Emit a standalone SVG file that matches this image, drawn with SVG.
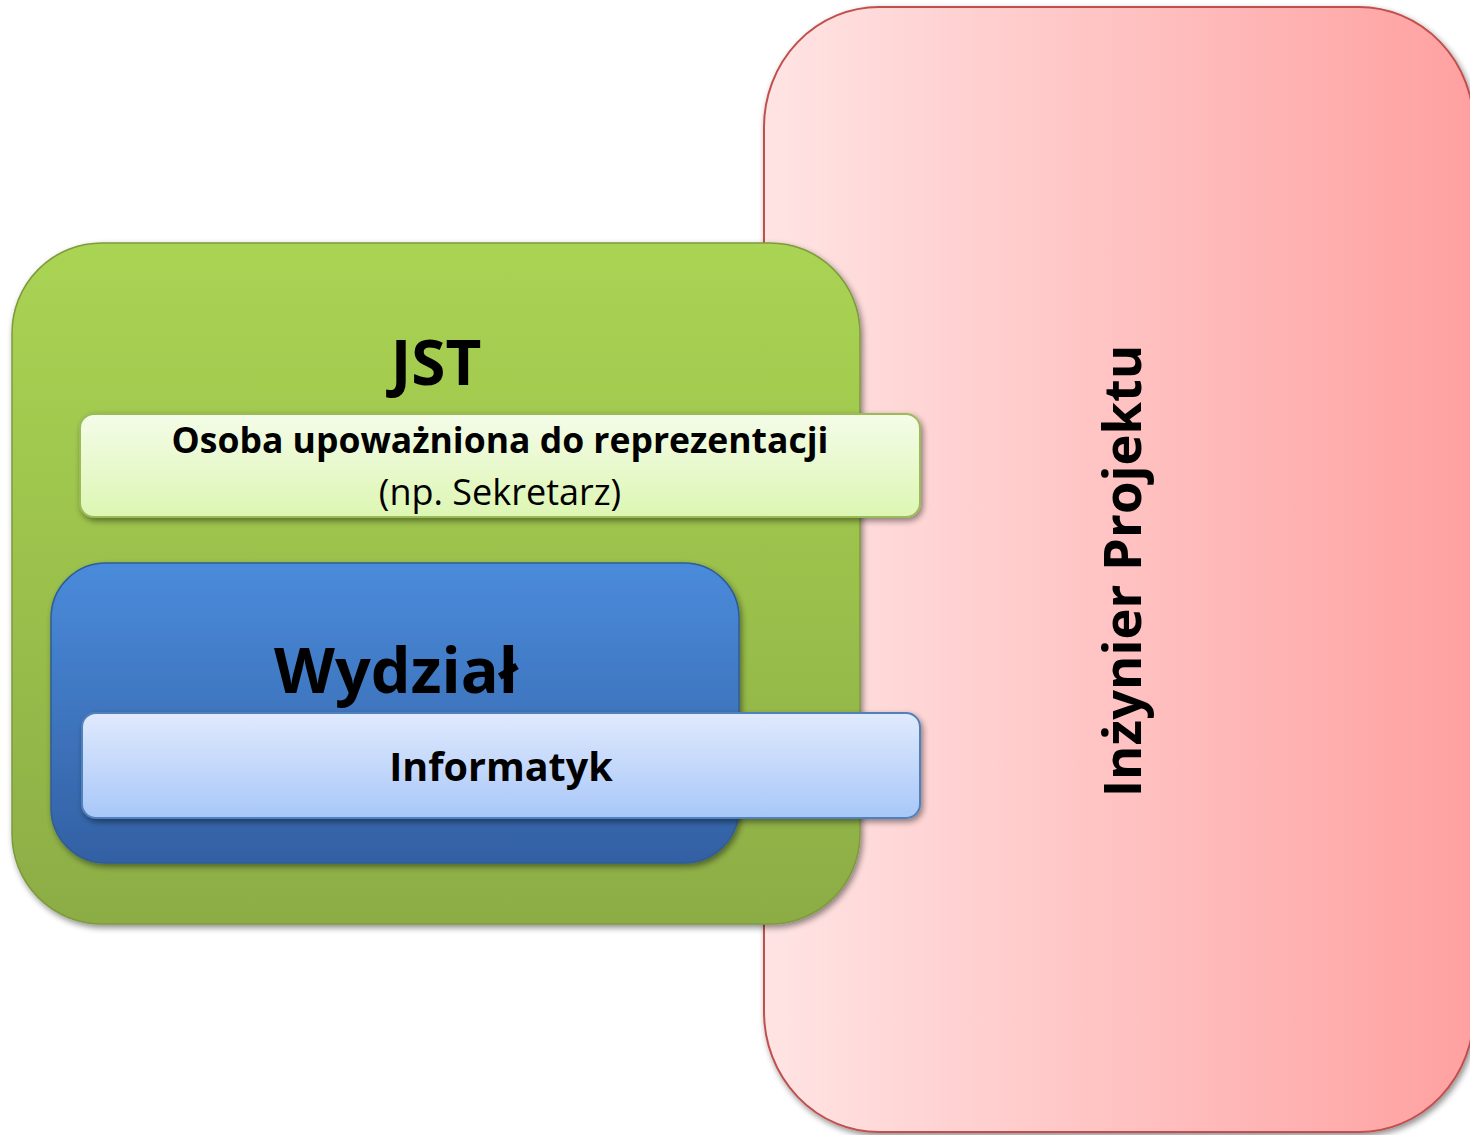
<svg xmlns="http://www.w3.org/2000/svg" width="1470" height="1135" viewBox="0 0 1470 1135">
<defs>
<linearGradient id="gPink" x1="0" y1="0" x2="1" y2="0">
<stop offset="0" stop-color="#ffe4e4"/>
<stop offset="1" stop-color="#ffa0a0"/>
</linearGradient>
<linearGradient id="gGreen" x1="0" y1="0" x2="0" y2="1">
<stop offset="0" stop-color="#aad453"/>
<stop offset="1" stop-color="#8cad45"/>
</linearGradient>
<linearGradient id="gLG" x1="0" y1="0" x2="0" y2="1">
<stop offset="0" stop-color="#f4fce8"/>
<stop offset="1" stop-color="#ddf6b3"/>
</linearGradient>
<linearGradient id="gBlue" x1="0" y1="0" x2="0" y2="1">
<stop offset="0" stop-color="#4a8bdb"/>
<stop offset="1" stop-color="#3360a3"/>
</linearGradient>
<linearGradient id="gLB" x1="0" y1="0" x2="0" y2="1">
<stop offset="0" stop-color="#e0eafd"/>
<stop offset="1" stop-color="#a8c7f8"/>
</linearGradient>
<filter id="sh" x="-10%" y="-10%" width="120%" height="120%">
<feGaussianBlur in="SourceAlpha" stdDeviation="3"/>
<feOffset dx="2" dy="3" result="b"/>
<feComponentTransfer><feFuncA type="linear" slope="0.45"/></feComponentTransfer>
<feMerge><feMergeNode/><feMergeNode in="SourceGraphic"/></feMerge>
</filter>
</defs>
<style>
text{font-family:"Open Sans","Liberation Sans",sans-serif;fill:#000;text-anchor:middle}
.b{font-weight:bold}
</style>
<rect width="1470" height="1135" fill="#fff"/>
<g id="inzynier">
<rect x="764" y="7" width="710" height="1125" rx="115" ry="120" fill="url(#gPink)" stroke="#c0504d" stroke-width="2" filter="url(#sh)"/>
<text class="b" font-size="52.5" transform="translate(1141,571) rotate(-90)">Inżynier Projektu</text>
</g>
<g id="jst">
<rect x="12" y="243" width="848" height="681" rx="90" fill="url(#gGreen)" stroke="#7d9a3d" stroke-width="1.5" filter="url(#sh)"/>
<text class="b" font-size="62" x="436" y="385">JST</text>
</g>
<g id="osoba">
<rect x="80" y="414" width="840" height="103" rx="14" fill="url(#gLG)" stroke="#9bbb59" stroke-width="2" filter="url(#sh)"/>
<text class="b" font-size="35.5" x="500" y="453">Osoba upoważniona do reprezentacji</text>
<text font-size="36" x="500" y="505">(np. Sekretarz)</text>
</g>
<g id="wydzial">
<rect x="51" y="563" width="688" height="300" rx="55" fill="url(#gBlue)" stroke="#2f5c99" stroke-width="1.5" filter="url(#sh)"/>
<text class="b" font-size="63" x="396" y="693">Wydział</text>
</g>
<g id="informatyk">
<rect x="82" y="713" width="838" height="105" rx="14" fill="url(#gLB)" stroke="#4f81bd" stroke-width="2" filter="url(#sh)"/>
<text class="b" font-size="39.5" x="501" y="781">Informatyk</text>
</g>
<g id="connectors"/>
</svg>
